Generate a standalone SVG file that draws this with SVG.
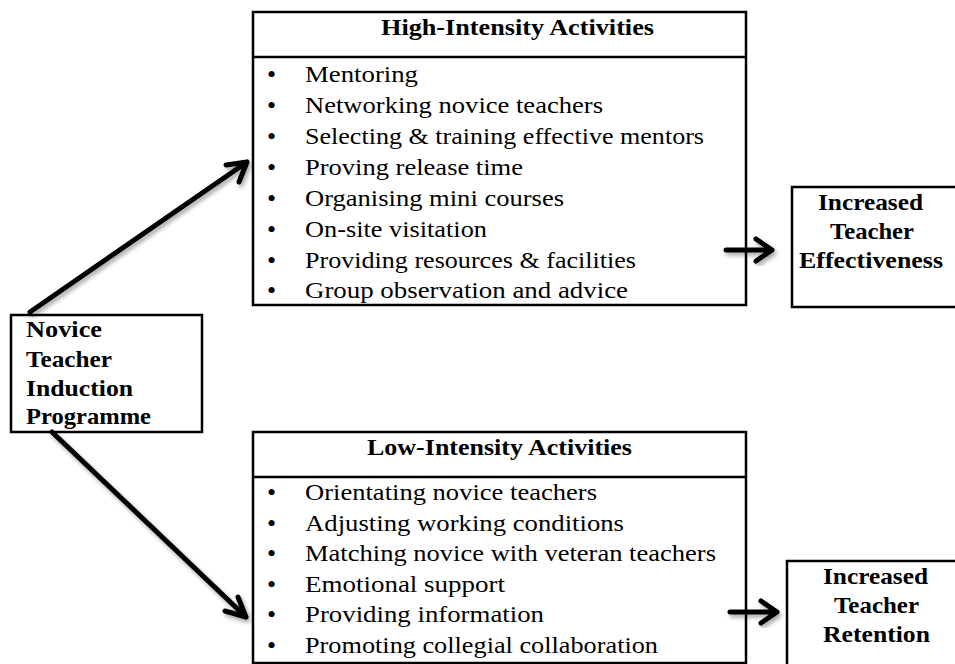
<svg xmlns="http://www.w3.org/2000/svg" width="955" height="664" viewBox="0 0 955 664">
<defs>
<style>
.box{fill:#fff;stroke:#000;stroke-width:2.5}
.t{font-family:"Liberation Serif","Times New Roman",serif;font-size:23px;fill:#000}
.bl{font-size:26px}
.b{font-weight:bold}
.conn{stroke:#000;stroke-width:5;fill:none;stroke-linecap:round;stroke-linejoin:round;filter:url(#sh)}
</style>
<filter id="sh" x="-20%" y="-20%" width="140%" height="140%">
<feGaussianBlur in="SourceAlpha" stdDeviation="2"/>
<feOffset dx="2" dy="3" result="o"/>
<feComponentTransfer><feFuncA type="linear" slope="0.35"/></feComponentTransfer>
<feMerge><feMergeNode/><feMergeNode in="SourceGraphic"/></feMerge>
</filter>
</defs>
<rect width="955" height="664" fill="#fff"/>
<g id="high">
<rect class="box" x="253" y="12" width="493" height="293"/>
<line x1="253" y1="57" x2="746" y2="57" stroke="#000" stroke-width="2.5"/>
<text class="t b" x="381" y="35" textLength="273" lengthAdjust="spacingAndGlyphs">High-Intensity Activities</text>
<g class="t">
<text class="bl" x="267" y="83">•</text><text x="305" y="82" textLength="113" lengthAdjust="spacingAndGlyphs">Mentoring</text>
<text class="bl" x="267" y="114">•</text><text x="305" y="113" textLength="298" lengthAdjust="spacingAndGlyphs">Networking novice teachers</text>
<text class="bl" x="267" y="145">•</text><text x="305" y="144" textLength="399" lengthAdjust="spacingAndGlyphs">Selecting &amp; training effective mentors</text>
<text class="bl" x="267" y="176">•</text><text x="305" y="175" textLength="218" lengthAdjust="spacingAndGlyphs">Proving release time</text>
<text class="bl" x="267" y="207">•</text><text x="305" y="206" textLength="259" lengthAdjust="spacingAndGlyphs">Organising mini courses</text>
<text class="bl" x="267" y="238">•</text><text x="305" y="237" textLength="182" lengthAdjust="spacingAndGlyphs">On-site visitation</text>
<text class="bl" x="267" y="269">•</text><text x="305" y="268" textLength="331" lengthAdjust="spacingAndGlyphs">Providing resources &amp; facilities</text>
<text class="bl" x="267" y="299">•</text><text x="305" y="298" textLength="323" lengthAdjust="spacingAndGlyphs">Group observation and advice</text>
</g>
</g>
<g id="low">
<rect class="box" x="253" y="432" width="493" height="231"/>
<line x1="253" y1="477" x2="746" y2="477" stroke="#000" stroke-width="2.5"/>
<text class="t b" x="367" y="455" textLength="265" lengthAdjust="spacingAndGlyphs">Low-Intensity Activities</text>
<g class="t">
<text class="bl" x="267" y="501">•</text><text x="305" y="500" textLength="292" lengthAdjust="spacingAndGlyphs">Orientating novice teachers</text>
<text class="bl" x="267" y="532">•</text><text x="305" y="531" textLength="319" lengthAdjust="spacingAndGlyphs">Adjusting working conditions</text>
<text class="bl" x="267" y="562">•</text><text x="305" y="561" textLength="411" lengthAdjust="spacingAndGlyphs">Matching novice with veteran teachers</text>
<text class="bl" x="267" y="593">•</text><text x="305" y="592" textLength="200" lengthAdjust="spacingAndGlyphs">Emotional support</text>
<text class="bl" x="267" y="623">•</text><text x="305" y="622" textLength="239" lengthAdjust="spacingAndGlyphs">Providing information</text>
<text class="bl" x="267" y="654">•</text><text x="305" y="653" textLength="353" lengthAdjust="spacingAndGlyphs">Promoting collegial collaboration</text>
</g>
</g>
<g id="novice">
<rect class="box" x="11" y="315" width="191" height="117"/>
<g class="t b">
<text x="26" y="337" textLength="76" lengthAdjust="spacingAndGlyphs">Novice</text>
<text x="26" y="367" textLength="86" lengthAdjust="spacingAndGlyphs">Teacher</text>
<text x="26" y="396" textLength="107" lengthAdjust="spacingAndGlyphs">Induction</text>
<text x="26" y="424" textLength="125" lengthAdjust="spacingAndGlyphs">Programme</text>
</g>
</g>
<g id="effectiveness">
<rect class="box" x="792" y="187" width="170" height="120"/>
<g class="t b">
<text x="818" y="210" textLength="105" lengthAdjust="spacingAndGlyphs">Increased</text>
<text x="830" y="239" textLength="84" lengthAdjust="spacingAndGlyphs">Teacher</text>
<text x="799" y="268" textLength="144" lengthAdjust="spacingAndGlyphs">Effectiveness</text>
</g>
</g>
<g id="retention">
<rect class="box" x="787" y="561" width="175" height="110"/>
<g class="t b">
<text x="823" y="584" textLength="105" lengthAdjust="spacingAndGlyphs">Increased</text>
<text x="834" y="613" textLength="85" lengthAdjust="spacingAndGlyphs">Teacher</text>
<text x="823" y="642" textLength="107" lengthAdjust="spacingAndGlyphs">Retention</text>
</g>
</g>
<g id="connectors">
<path class="conn" d="M30 312 L247 162 M226 165 L247 162 L239 182"/>
<path class="conn" d="M52 432 L246 617 M238 597 L246 617 L225 611"/>
<path class="conn" d="M726 250 L772 250 M756 239 L772 250 L756 261"/>
<path class="conn" d="M730 612 L777 612 M761 601 L777 612 L761 623"/>
</g>
</svg>
